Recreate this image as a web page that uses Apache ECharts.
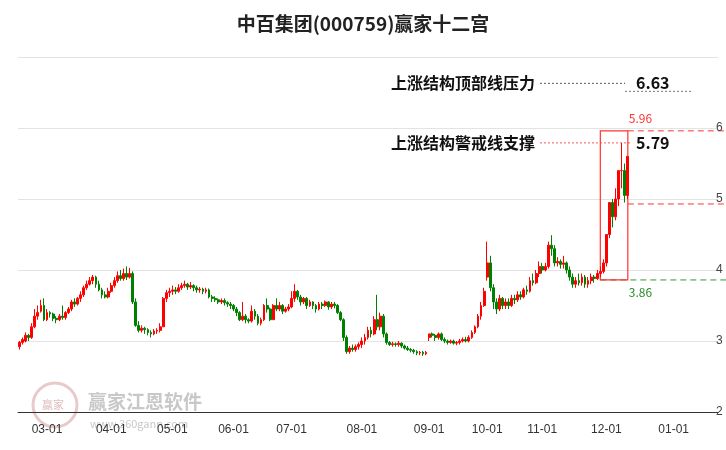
<!DOCTYPE html>
<html><head><meta charset="utf-8">
<script src="https://cdn.jsdelivr.net/npm/echarts@6/dist/echarts.min.js"></script>
<style>html,body{margin:0;padding:0;background:#fff}#c{width:726px;height:450px}</style>
</head><body><div id="c"></div>
<script>
const title = '中百集团(000759)赢家十二宫';
const startDate = '2024-02-19', endDate = '2025-01-22';
const holidays = ['2024-04-04','2024-04-05','2024-05-01','2024-05-02','2024-05-03','2024-06-10','2024-09-16','2024-09-17','2024-10-01','2024-10-02','2024-10-03','2024-10-04','2024-10-07','2025-01-01'];
// [open, close, low, high]
const ohlc = [
[2.92,2.98,2.88,3.0],[2.98,3.02,2.95,3.05],[3.0,3.08,2.98,3.12],[3.08,3.05,3.0,3.1],[3.05,3.2,3.03,3.25],[3.2,3.35,3.18,3.45],[3.35,3.4,3.3,3.5],[3.42,3.5,3.4,3.58],[3.5,3.3,3.28,3.6],
[3.3,3.4,3.28,3.45],[3.4,3.38,3.33,3.42],[3.38,3.32,3.28,3.4],[3.32,3.3,3.25,3.35],[3.3,3.35,3.28,3.38],[3.35,3.33,3.3,3.5],[3.33,3.4,3.3,3.42],[3.4,3.45,3.38,3.48],[3.45,3.55,3.42,3.58],[3.55,3.52,3.48,3.6],[3.52,3.6,3.5,3.62],[3.6,3.65,3.55,3.7],[3.65,3.75,3.62,3.78],[3.75,3.8,3.72,3.85],[3.8,3.85,3.78,3.9],[3.85,3.9,3.8,3.93],[3.9,3.8,3.75,3.92],[3.8,3.72,3.7,3.85],[3.72,3.65,3.6,3.75],[3.65,3.62,3.6,3.7],[3.62,3.7,3.6,3.75],
[3.7,3.78,3.68,3.82],[3.78,3.85,3.75,3.9],[3.85,3.92,3.82,3.98],[3.92,3.88,3.85,4.0],[3.88,3.95,3.85,4.02],[3.95,3.9,3.86,4.05],[3.9,3.95,3.88,4.03],[3.95,3.55,3.52,3.98],[3.55,3.22,3.2,3.6],[3.22,3.15,3.12,3.28],[3.15,3.18,3.12,3.22],[3.18,3.16,3.1,3.2],[3.16,3.12,3.08,3.18],[3.12,3.1,3.05,3.15],[3.1,3.14,3.08,3.17],[3.14,3.15,3.1,3.18],[3.15,3.2,3.12,3.25],[3.2,3.6,3.2,3.62],[3.6,3.68,3.55,3.72],[3.68,3.7,3.62,3.75],
[3.7,3.72,3.65,3.78],[3.72,3.7,3.66,3.76],[3.7,3.75,3.68,3.8],[3.75,3.78,3.72,3.82],[3.78,3.8,3.75,3.85],[3.8,3.76,3.72,3.82],[3.76,3.78,3.73,3.83],[3.78,3.75,3.7,3.8],[3.75,3.72,3.68,3.78],[3.72,3.73,3.68,3.76],[3.73,3.7,3.66,3.75],[3.7,3.72,3.67,3.75],[3.72,3.62,3.6,3.74],[3.62,3.6,3.55,3.65],[3.6,3.58,3.55,3.63],[3.58,3.55,3.52,3.6],[3.55,3.57,3.52,3.6],[3.57,3.54,3.5,3.6],[3.54,3.52,3.48,3.56],[3.52,3.5,3.45,3.55],
[3.5,3.45,3.42,3.52],[3.45,3.4,3.35,3.48],[3.4,3.3,3.28,3.42],[3.3,3.35,3.28,3.55],[3.35,3.3,3.25,3.38],[3.3,3.28,3.25,3.32],[3.28,3.42,3.26,3.5],[3.42,3.35,3.3,3.45],[3.35,3.25,3.22,3.38],[3.25,3.3,3.22,3.33],[3.3,3.5,3.28,3.52],[3.5,3.45,3.4,3.6],[3.45,3.3,3.28,3.47],[3.3,3.5,3.3,3.52],[3.5,3.45,3.42,3.6],[3.45,3.5,3.42,3.55],[3.5,3.42,3.38,3.52],[3.42,3.45,3.4,3.48],[3.45,3.48,3.42,3.52],
[3.48,3.6,3.46,3.7],[3.6,3.7,3.55,3.8],[3.7,3.62,3.58,3.72],[3.62,3.55,3.5,3.65],[3.55,3.6,3.52,3.62],[3.6,3.5,3.45,3.62],[3.5,3.55,3.48,3.58],[3.55,3.5,3.45,3.56],[3.5,3.45,3.4,3.52],[3.45,3.52,3.43,3.55],[3.52,3.5,3.45,3.55],[3.5,3.55,3.48,3.57],[3.55,3.48,3.44,3.56],[3.48,3.52,3.45,3.55],[3.52,3.5,3.46,3.55],[3.5,3.4,3.38,3.52],[3.4,3.3,3.28,3.42],[3.3,3.05,3.0,3.32],[3.05,2.85,2.82,3.08],[2.85,2.9,2.82,2.93],[2.9,2.88,2.85,2.95],[2.88,2.92,2.85,2.95],[2.92,2.95,2.88,2.98],
[2.95,3.0,2.9,3.05],[3.0,3.05,2.95,3.1],[3.05,3.15,3.02,3.2],[3.15,3.1,3.05,3.2],[3.1,3.3,3.08,3.35],[3.3,3.2,3.15,3.65],[3.2,3.35,3.15,3.4],[3.35,3.1,3.05,3.38],[3.1,2.98,2.95,3.12],[2.98,2.95,2.93,3.0],[2.95,2.96,2.92,2.99],[2.96,2.95,2.92,2.98],[2.95,2.97,2.92,3.0],[2.97,2.93,2.9,2.98],[2.93,2.9,2.88,2.95],[2.9,2.88,2.86,2.93],[2.88,2.87,2.84,2.9],[2.87,2.85,2.82,2.89],[2.85,2.83,2.8,2.87],[2.83,2.84,2.8,2.86],[2.84,2.82,2.79,2.86],[2.82,2.84,2.8,2.86],
[3.05,3.1,3.0,3.1],[3.1,3.08,3.05,3.12],[3.08,3.05,3.0,3.1],[3.05,3.1,3.02,3.12],[3.1,3.02,3.0,3.12],[3.02,3.0,2.97,3.05],[3.0,2.98,2.95,3.02],[2.98,3.0,2.96,3.02],[3.0,2.97,2.95,3.02],[2.97,2.98,2.94,3.0],[2.98,3.0,2.95,3.03],[3.0,3.02,2.98,3.05],[3.02,3.0,2.98,3.06],[3.0,3.05,2.98,3.08],[3.05,3.12,3.03,3.15],[3.12,3.2,3.1,3.22],[3.2,3.35,3.18,3.38],[3.35,3.5,3.3,3.55],[3.5,3.7,3.48,3.75],
[3.9,4.1,3.85,4.4],[4.1,3.75,3.7,4.2],[3.75,3.55,3.45,3.8],[3.55,3.45,3.38,3.6],[3.45,3.6,3.42,3.65],[3.6,3.5,3.45,3.62],[3.5,3.55,3.45,3.6],[3.55,3.5,3.45,3.6],[3.5,3.6,3.48,3.65],[3.6,3.58,3.52,3.65],[3.58,3.65,3.55,3.7],[3.65,3.62,3.58,3.7],[3.62,3.72,3.6,3.75],[3.72,3.7,3.65,3.78],[3.7,3.85,3.68,3.9],[3.85,3.82,3.78,3.95],[3.82,3.95,3.8,4.0],[3.95,4.05,3.9,4.12],
[4.05,4.0,3.95,4.1],[4.0,4.05,3.98,4.1],[4.05,4.35,4.02,4.4],[4.35,4.3,4.2,4.49],[4.3,4.1,4.05,4.35],[4.1,4.12,4.05,4.18],[4.12,4.08,4.02,4.15],[4.08,4.1,4.02,4.2],[4.1,4.0,3.95,4.12],[4.0,3.9,3.85,4.05],[3.9,3.8,3.75,3.95],[3.8,3.85,3.75,3.9],[3.85,3.82,3.78,3.95],[3.82,3.9,3.78,3.95],[3.9,3.8,3.75,3.93],[3.8,3.85,3.75,3.9],[3.85,3.9,3.8,3.95],[3.9,3.88,3.82,3.93],[3.88,3.95,3.86,4.0],[3.95,3.98,3.9,4.05],[3.98,4.1,3.95,4.15],
[4.1,4.5,4.05,4.5],[4.5,4.95,4.45,4.95],[4.95,4.75,4.6,5.0],[4.75,5.0,4.7,5.15],[5.0,5.4,4.9,5.4],[5.4,5.4,5.15,5.79],[5.4,5.05,4.95,5.5],[5.05,5.6,5.0,5.6]
];
const topPressure = 6.63, alertSupport = 5.79;
const boxHigh = 5.96, boxLow = 3.86, boxMid = 4.93;
const boxStart = '2024-11-28';

function fmt(d){return d.toISOString().slice(0,10);}
const dates = [];
for (let d = new Date(startDate+'T00:00:00Z'); fmt(d) <= endDate; d.setUTCDate(d.getUTCDate()+1)) {
  const wd = d.getUTCDay(); const s = fmt(d);
  if (wd===0||wd===6||holidays.includes(s)) continue;
  dates.push(s);
}
const lastDate = dates[ohlc.length-1];
function isMonthStart(i){ return i>0 && dates[i].slice(5,7)!==dates[i-1].slice(5,7); }

const chart = echarts.init(document.getElementById('c'));
chart.setOption({
  animation:false,
  title:{text:title,left:'center',top:9,textStyle:{fontSize:19,fontWeight:'bold',color:'#222',fontFamily:'Noto Sans CJK SC'}},
  grid:{left:18,right:8,top:57,bottom:38},
  xAxis:{type:'category',data:dates,boundaryGap:true,
    axisLine:{lineStyle:{color:'#333'}},
    axisTick:{interval:isMonthStart,lineStyle:{color:'#333'},length:5},
    axisLabel:{interval:isMonthStart,formatter:v=>v.slice(5,7)+'-01',color:'#333',fontSize:12,margin:12},
    splitLine:{show:false}},
  yAxis:{type:'value',position:'right',min:2,max:7,interval:1,
    axisLine:{show:false},axisTick:{show:false},
    axisLabel:{color:'#444',fontSize:12,margin:-2,align:'left',showMaxLabel:false},
    splitLine:{lineStyle:{color:'#e3e3e3'}}},
  series:[{type:'candlestick',data:ohlc,barWidth:'75%',
    itemStyle:{color:'#ff0000',color0:'#008000',borderColor:'#ff0000',borderColor0:'#008000',borderWidth:1},
    markArea:{silent:true,itemStyle:{color:'rgba(0,0,0,0)',borderColor:'#ff3333',borderWidth:1.2},
      data:[[{xAxis:boxStart,yAxis:boxLow},{xAxis:lastDate,yAxis:boxHigh}]]}
  }]
});

const g = [];
const px = (d,v)=>chart.convertToPixel({xAxisIndex:0,yAxisIndex:0},[d,v]);
const xr = 726;
const boxL = px(boxStart,boxLow)[0], boxR = px(lastDate,boxLow)[0];
const yTop = px(lastDate,topPressure)[1], yAlert = px(lastDate,alertSupport)[1];
const yHi = px(lastDate,boxHigh)[1], yLo = px(lastDate,boxLow)[1], yMid = px(lastDate,boxMid)[1];
const txt = (x,y,t,o)=>g.push(Object.assign({type:'text',x,y,style:Object.assign({text:t,fontFamily:'Noto Sans CJK SC',verticalAlign:'middle'},o)}));
const line = (x1,y1,x2,y2,s)=>g.push({type:'line',shape:{x1,y1,x2,y2},style:s});
txt(535,yTop,'上涨结构顶部线压力',{align:'right',fontSize:16,fontWeight:'bold',fill:'#111'});
line(540,yTop,625,yTop,{stroke:'#333',lineWidth:0.8,lineDash:[2,2]});
txt(636,yTop,String(topPressure),{fontSize:16,fontWeight:'bold',fill:'#111'});
line(625,yTop+8,692,yTop+8,{stroke:'#555',lineWidth:0.8,lineDash:[2,2]});
txt(535,yAlert,'上涨结构警戒线支撑',{align:'right',fontSize:16,fontWeight:'bold',fill:'#111'});
line(540,yAlert,boxR+4,yAlert,{stroke:'#e33',lineWidth:0.8,lineDash:[2,2]});
txt(636,yAlert,String(alertSupport),{fontSize:16,fontWeight:'bold',fill:'#111'});
line(boxR,yHi,xr,yHi,{stroke:'#f33',lineWidth:1,lineDash:[6,4]});
line(boxR,yMid,xr,yMid,{stroke:'#f33',lineWidth:1,lineDash:[6,4]});
line(boxL,yLo,xr,yLo,{stroke:'#393',lineWidth:1,lineDash:[6,4]});
txt(boxR+1,yHi-12,boxHigh.toFixed(2),{fontSize:12,fill:'#f33'});
txt(boxR+1,yLo+12,boxLow.toFixed(2),{fontSize:12,fill:'#2a8a2a'});
g.push({type:'circle',shape:{cx:55,cy:405,r:22},style:{fill:'none',stroke:'#e8caca',lineWidth:3},z:-1});
txt(42,405,'赢家',{fontSize:11,fill:'#e0bcbc'});
txt(88,402,'赢家江恩软件',{fontSize:19,fill:'#c8c8c8',fontWeight:'bold'});
txt(90,424,'www.360gann.com',{fontSize:11,fill:'#c8c8c8'});
chart.setOption({graphic:g});
</script></body></html>
